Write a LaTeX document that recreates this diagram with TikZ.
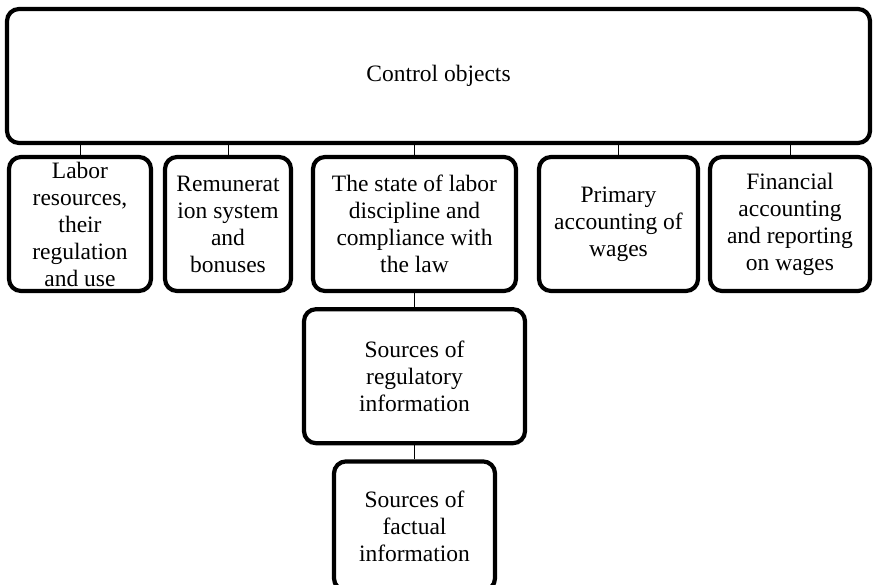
\documentclass[tikz,border=0pt]{standalone}
\usepackage{fontspec}
\setmainfont{Liberation Serif}
\usetikzlibrary{positioning}

\begin{document}
\begin{tikzpicture}[x=1pt,y=-1pt,thick,node distance=14pt,
    obj node/.style={draw,line width=4.2pt,rounded corners=12pt,align=center,
        inner sep=0pt,minimum height=134pt,font=\fontsize{23.5}{27}\selectfont}]

    \useasboundingbox (0,0) rectangle (877,585);

    \node[obj node,minimum width=863pt] (top) at (438.5,76) {Control objects};

    \node[obj node,minimum width=142pt] (labor) at (80,224) {Labor\\resources,\\their\\regulation\\and use};
    \node[obj node,minimum width=126pt] (pay) at (228,224) {Remunerat\\ion system\\and\\bonuses};
    \node[obj node,minimum width=203pt] (state) at (414.5,224) {The state of labor\\discipline and\\compliance with\\the law};
    \node[obj node,minimum width=159pt] (primary) at (618.5,224) {Primary\\accounting of\\wages};
    \node[obj node,minimum width=160pt] (fin) at (790,224) {Financial\\accounting\\and reporting\\on wages};

    \node[obj node,minimum width=221pt] (reg) [below=of state] {Sources of\\regulatory\\information};
    \node[obj node,minimum width=161pt,minimum height=129pt] (fact) [below=of reg] {Sources of\\factual\\information};

    \path[draw,line width=1pt]
    (labor.north) -- (labor.north |- top.south)
    (pay.north) -- (pay.north |- top.south)
    (state.north) -- (state.north |- top.south)
    (primary.north) -- (primary.north |- top.south)
    (fin.north) -- (fin.north |- top.south)
    (state.south) -- (reg.north)
    (reg.south) -- (fact.north);

\end{tikzpicture}
\end{document}
